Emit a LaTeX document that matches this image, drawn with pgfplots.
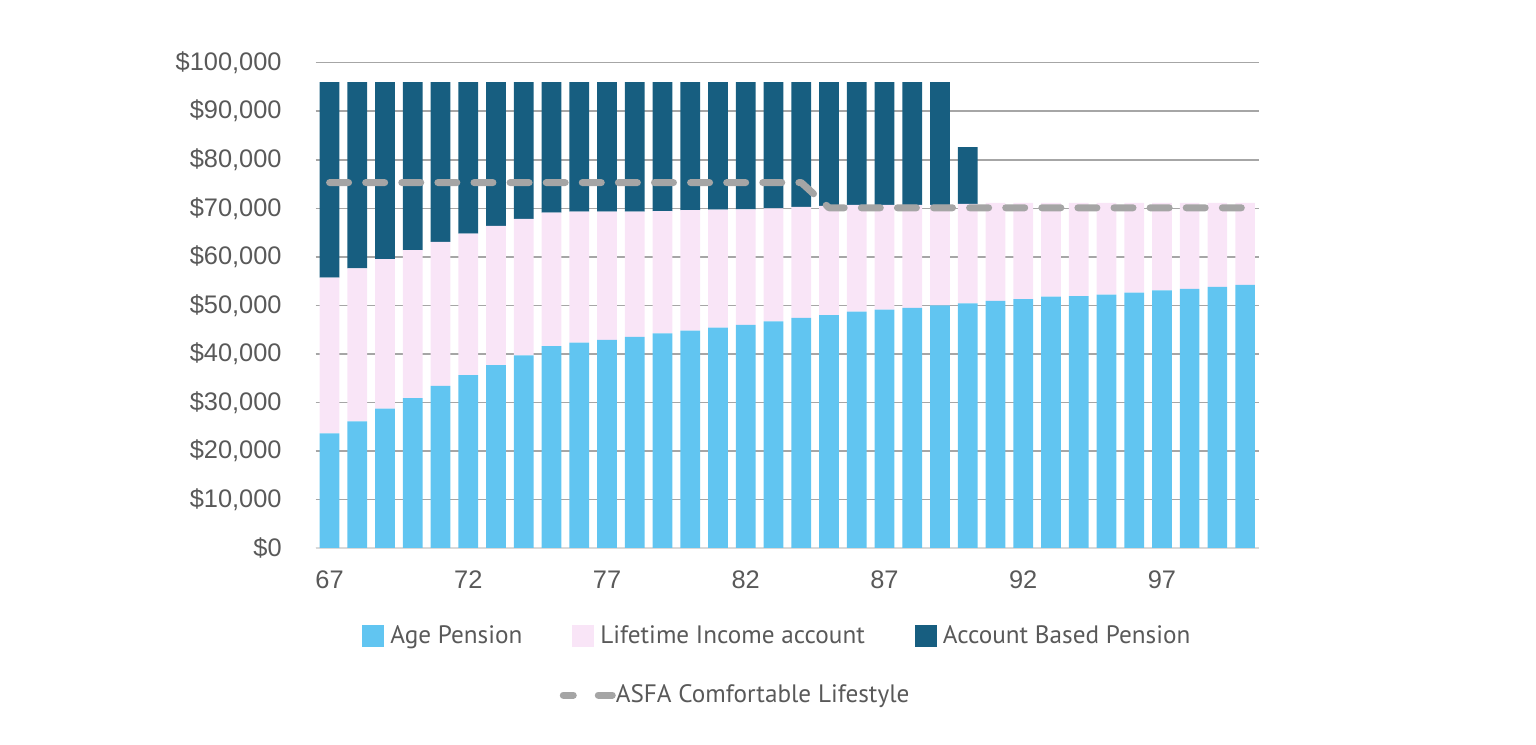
\documentclass[border=0pt]{standalone}
\usepackage{pgfplots}
\usepackage{pgfplotstable}
\pgfplotsset{compat=1.18}
\usepackage{fontspec}
\setmainfont{Liberation Sans}
\newfontfamily\legfont{PT Sans}

\definecolor{apblue}{HTML}{61C5F1}
\definecolor{liapink}{HTML}{F9E5F7}
\definecolor{abpnavy}{HTML}{175E80}
\definecolor{asfagray}{HTML}{A5A5A5}
\definecolor{gridgray}{HTML}{A6A6A6}
\definecolor{axisgray}{HTML}{D9D9D9}
\definecolor{labelgray}{HTML}{595959}

% income by age: age pension, lifetime income account, account based pension, ASFA target
\pgfplotstableread{
age ap    lia   abp   asfa
67  23600 32100 40300 75300
68  26100 31500 38400 75300
69  28700 30800 36500 75300
70  30900 30500 34600 75300
71  33400 29700 32900 75300
72  35600 29200 31200 75300
73  37700 28700 29600 75300
74  39700 28100 28200 75300
75  41600 27500 26900 75300
76  42300 27000 26700 75300
77  42900 26400 26700 75300
78  43500 25800 26700 75300
79  44200 25200 26600 75300
80  44800 24800 26400 75300
81  45400 24300 26300 75300
82  46000 23800 26200 75300
83  46700 23300 26000 75300
84  47400 22900 25700 75300
85  48000 22500 25500 70100
86  48700 22000 25300 70100
87  49100 21600 25300 70100
88  49500 21200 25300 70100
89  50000 20700 25300 70100
90  50400 20500 11700 70100
91  50900 20200 0     70100
92  51300 19800 0     70100
93  51800 19300 0     70100
94  51900 19200 0     70100
95  52200 18900 0     70100
96  52600 18500 0     70100
97  53100 18000 0     70100
98  53400 17700 0     70100
99  53800 17300 0     70100
100 54200 16900 0     70100
}\data

\pgfplotsset{
  base/.style={
    at={(157.85pt,98pt)}, anchor=south west,
    scale only axis, width=471.65pt, height=242.65pt,
    xmin=66.5, xmax=100.5, ymin=0, ymax=100000,
    scaled y ticks=false,
  },
  swatch/.style={legend image code/.code={\fill[##1] (0pt,-5.5pt) rectangle (11pt,5.5pt);}},
}

\begin{document}
\begin{tikzpicture}
\path[use as bounding box] (0,0) rectangle (768pt,372pt);

\begin{axis}[
    base,
    ybar stacked, bar width=9.85pt,
    separate axis lines,
    axis x line*=bottom, axis y line*=left,
    x axis line style={draw=axisgray, line width=0.75pt},
    y axis line style={draw=none},
    major tick length=0pt,
    xtick={67,72,77,82,87,92,97},
    ytick={0,10000,...,100000},
    yticklabels={{\$0},{\$10,000},{\$20,000},{\$30,000},{\$40,000},{\$50,000},{\$60,000},{\$70,000},{\$80,000},{\$90,000},{\$100,000}},
    xticklabel style={font=\fontsize{12.7}{15}\selectfont, text=labelgray, yshift=-8pt},
    yticklabel style={font=\fontsize{12.7}{15}\selectfont, text=labelgray, xshift=-13.5pt},
    /pgf/number format/assume math mode=true,
    ymajorgrids, grid style={draw=gridgray, line width=0.75pt},
    legend columns=3,
    legend style={at={(0.4905,-0.182)}, anchor=center, draw=none, fill=none,
      font=\legfont\fontsize{12.6}{15}\selectfont, text=labelgray,
      /tikz/every odd column/.append style={column sep=1pt},
      /tikz/every even column/.append style={column sep=23pt}},
]
\addplot[fill=apblue, draw=none, swatch] table[x=age, y=ap] {\data};
\addlegendentry{Age Pension}
\addplot[fill=liapink, draw=none, swatch] table[x=age, y=lia] {\data};
\addlegendentry{Lifetime Income account}
\addplot[fill=abpnavy, draw=none, swatch] table[x=age, y=abp] {\data};
\addlegendentry{Account Based Pension}
\end{axis}

\begin{axis}[
    base, hide axis,
    legend style={at={(0.4462,-0.303)}, anchor=center, draw=none, fill=none,
      font=\legfont\fontsize{12.6}{15}\selectfont, text=labelgray,
      /tikz/every odd column/.append style={column sep=-2pt}},
]
\addplot[asfagray, line width=3.5pt, line cap=round, line join=round,
    dash pattern=on 9.5pt off 8.55pt,
    legend image code/.code={\draw[asfagray, line width=3.5pt, line cap=round] (1.75pt,0pt) -- (6.75pt,0pt) (19.25pt,0pt) -- (26.25pt,0pt);}]
    table[x=age, y=asfa] {\data};
\addlegendentry{ASFA Comfortable Lifestyle}
\end{axis}
\end{tikzpicture}
\end{document}
